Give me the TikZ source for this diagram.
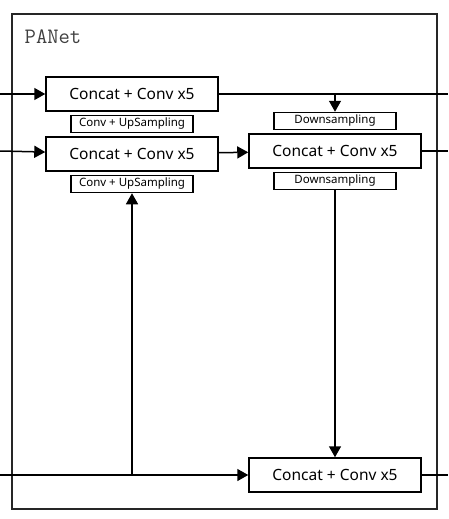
\documentclass[tikz,border=0pt]{standalone}
\usepackage{fontspec}
\newfontfamily\boxfont{Noto Sans}
\usetikzlibrary{arrows.meta, positioning}

\begin{document}
\begin{tikzpicture}[
    x=1pt, y=-1pt,
    node distance=3pt,
    convbox/.style={rectangle, draw=black, line width=1.5pt, minimum width=172pt, minimum height=34pt, inner sep=0pt, font=\boxfont\fontsize{15.5}{15.5}\selectfont},
    samplebox/.style={rectangle, draw=black, line width=1.5pt, minimum width=122pt, minimum height=17pt, inner sep=0pt, font=\boxfont\fontsize{11.5}{11.5}\selectfont},
    flow/.style={-{Triangle[length=11pt, width=12pt]}, line width=1.5pt},
    plain/.style={line width=1.5pt},
    ]

    \useasboundingbox (0,0) rectangle (448,519);

    % frame
    \draw[line width=1.1pt, black!85] (12,14) rectangle (437,509);
    \node[font=\ttfamily\fontsize{22}{22}\selectfont, black!75] (title) at (53,37) {PANet};

    \node[convbox]    (cat1)                      at (132,94)   {Concat + Conv x5};
    \node[samplebox]  (up1)    [below=of cat1]                  {Conv + UpSampling};
    \node[convbox]    (cat2)   [below=of up1]                   {Concat + Conv x5};
    \node[samplebox]  (up2)    [below=of cat2]                  {Conv + UpSampling};

    \node[convbox]    (cat3)                      at (335,151)  {Concat + Conv x5};
    \node[samplebox]  (down1)  [above=of cat3]                  {Downsampling};
    \node[samplebox]  (down2)  [below=of cat3]                  {Downsampling};
    \node[convbox]    (cat4)                      at (335,475)  {Concat + Conv x5};

    \coordinate (in1)  at (0,94);
    \coordinate (in2)  at (0,151);
    \coordinate (in3)  at (0,475);
    \coordinate (out1) at (448,94);
    \coordinate (out2) at (448,151);
    \coordinate (out3) at (448,475);

    \draw[flow] (in1) -- (cat1);
    \draw[flow] (in2) -- (cat2);
    \draw[flow] (in3) -- (cat4);
    \draw[flow] (cat2) -- (cat3);

    \draw[flow] (up2 |- in3) -- (up2);
    \draw[flow] (down1 |- cat1) -- (down1);
    \draw[flow] (down2) -- (cat4);

    \draw[plain] (cat1) -- (out1);
    \draw[plain] (cat3) -- (out2);
    \draw[plain] (cat4) -- (out3);

\end{tikzpicture}
\end{document}
